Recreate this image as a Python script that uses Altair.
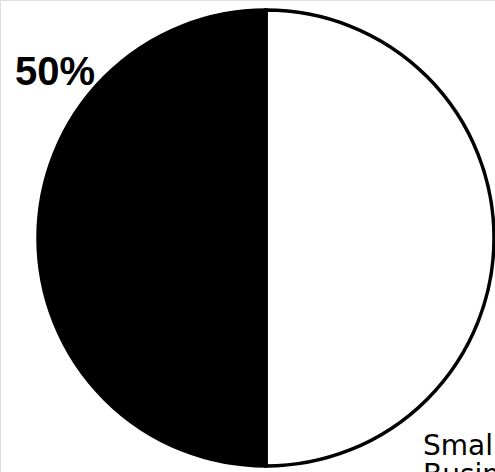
import altair as alt
import pandas as pd

# Two equal shares of the pie, drawn clockwise from 12 o'clock
categories = ["Small Business", "Other"]
shares = [50, 50]
fills = ["#ffffff", "#000000"]

pie_df = pd.DataFrame({"category": categories, "share": shares, "order": [0, 1]})

pct_label = f"{shares[1]}%"
biz_lines = ["Small", "Business"]

cx, cy, r = 266, 238, 228

pie = (
    alt.Chart(pie_df)
    .mark_arc(outerRadius=r, stroke="#000000", strokeWidth=3.5)
    .encode(
        theta=alt.Theta("share:Q", stack=True),
        order=alt.Order("order:Q"),
        color=alt.Color(
            "category:N",
            scale=alt.Scale(domain=categories, range=fills),
            legend=None,
        ),
        x=alt.value(cx),
        y=alt.value(cy),
    )
)

pct = (
    alt.Chart(pd.DataFrame({"t": [pct_label]}))
    .mark_text(
        align="left",
        baseline="alphabetic",
        font="Liberation Sans",
        fontSize=40,
        fontWeight="bold",
        color="#000000",
    )
    .encode(text="t:N", x=alt.value(15), y=alt.value(85))
)

biz = (
    alt.Chart(pd.DataFrame({"t": [biz_lines]}))
    .mark_text(
        align="left",
        baseline="alphabetic",
        font="DejaVu Sans",
        fontSize=28,
        lineHeight=29,
        color="#000000",
    )
    .encode(text="t", x=alt.value(423), y=alt.value(455))
)

chart = (
    alt.layer(pie, pct, biz)
    .properties(width=495, height=472, autosize=alt.AutoSizeParams(type="none"), padding=0)
    .configure_view(stroke=None)
    .configure(background="#ffffff")
)

chart.save("out.html", embed_options={"renderer": "svg", "actions": False})
